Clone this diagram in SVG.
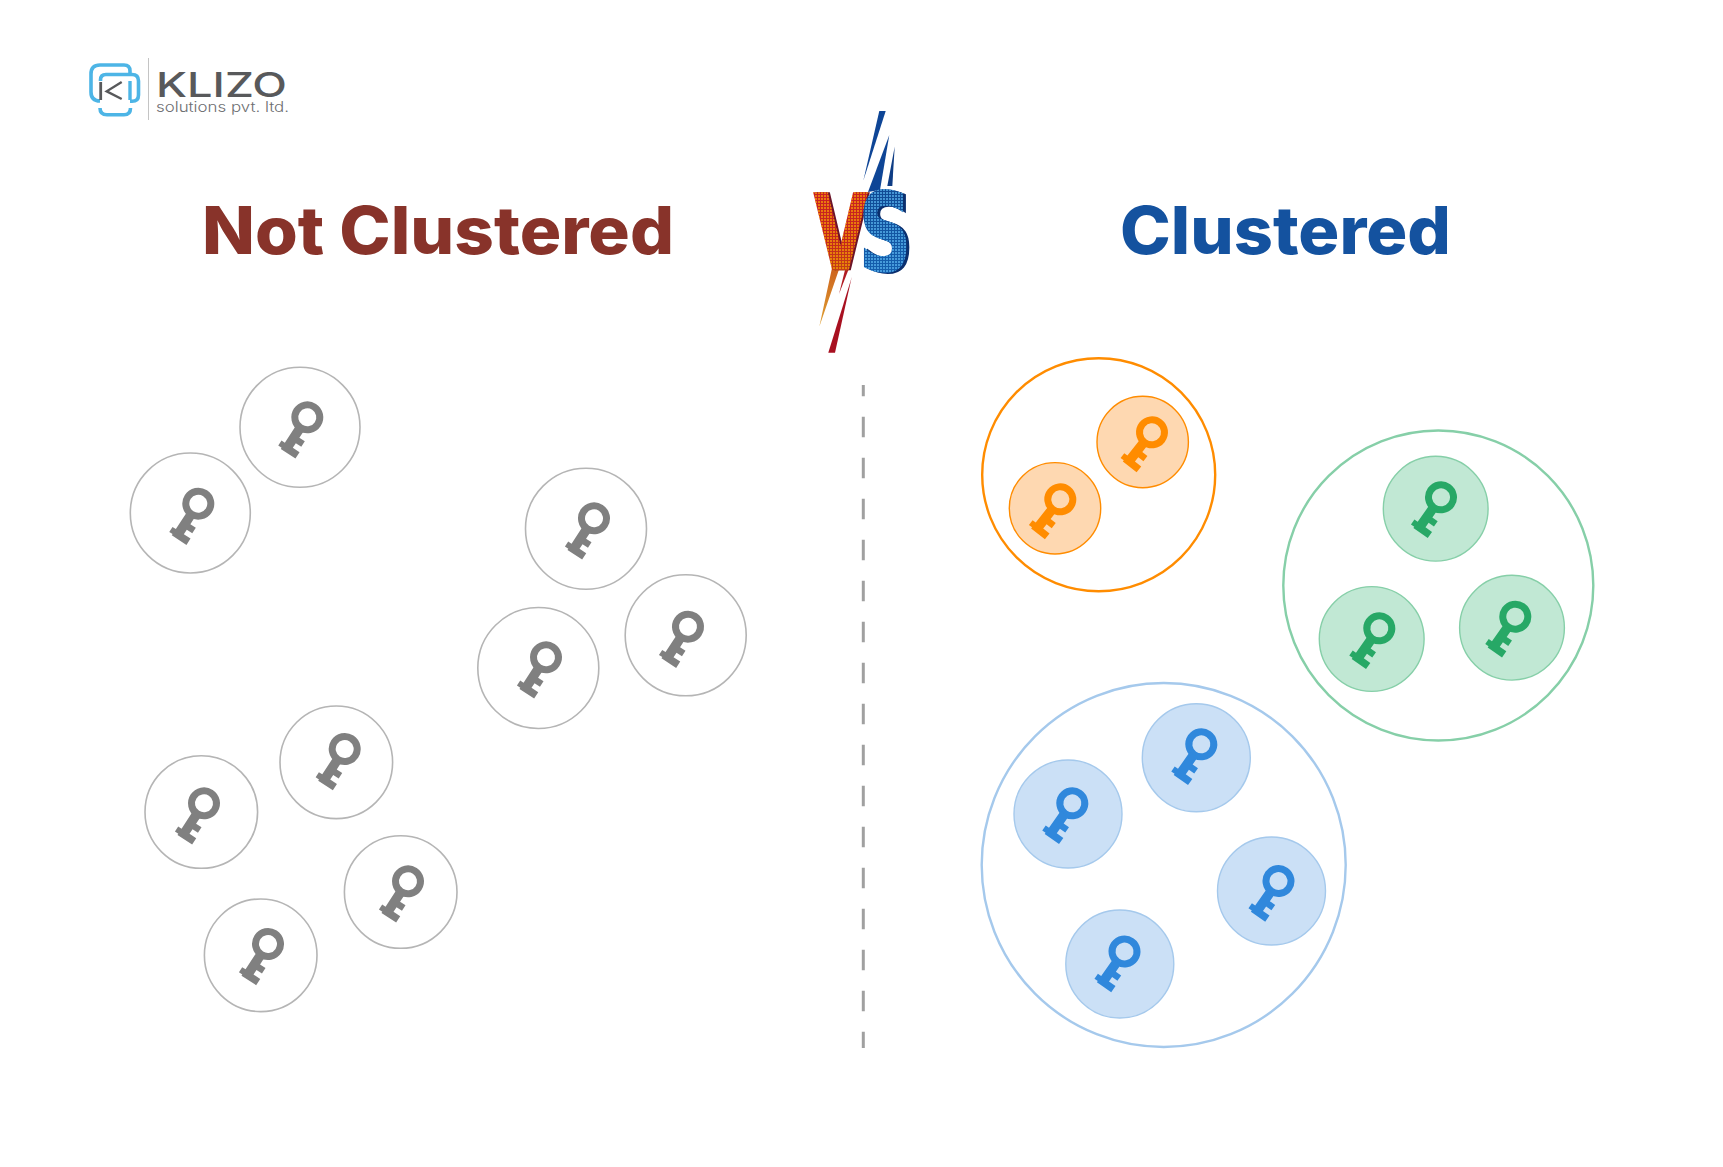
<svg xmlns="http://www.w3.org/2000/svg" width="1723" height="1167" viewBox="0 0 1723 1167">
<style>
.title{font-family:"Inter","Liberation Sans",sans-serif;font-weight:800;font-size:66px}
.gray{fill:#fff;stroke:#b5b5b5;stroke-width:1.6;color:#808080}
.orange{fill:#fed8b1;stroke:#ff8c00;stroke-width:1.4;color:#ff8c00}
.green{fill:#c1e8d4;stroke:#86cfa8;stroke-width:1.4;color:#27a866}
.blue{fill:#cbe0f6;stroke:#a5c9ec;stroke-width:1.4;color:#3088dc}
.hull{fill:none;stroke-width:2.4}
.k{stroke:none}
.vs{font-family:"DejaVu Sans","Liberation Sans",sans-serif;font-weight:700}
.logo{stroke:#4db5e6;stroke-width:3.6;fill:none}
</style>
<defs>
<g id="key">
<circle cx="0" cy="0" r="12.5" fill="none" stroke="currentColor" stroke-width="7"/>
<path fill="currentColor" stroke="none" d="M-5,13 L4.500,13 V21.500 H11 V28 H4.500 V33.500 H12.500 V41 H-5 V39.500 H-9 V33.500 H-5 Z"/>
</g>
<filter id="htV" filterUnits="userSpaceOnUse" primitiveUnits="userSpaceOnUse" x="800" y="180" width="80" height="100" color-interpolation-filters="sRGB">
<feOffset in="SourceAlpha" dx="1.500" dy="0" result="off"/>
<feFlood x="800" y="180" width="80" height="100" flood-color="#6b1428" result="dark"/>
<feComposite in="dark" in2="off" operator="in" x="800" y="180" width="80" height="100" result="ext"/>
<feFlood x="800" y="180" width="1.500" height="1.500" flood-color="#ffb000" flood-opacity=".38" result="d"/>
<feComposite in="d" in2="d" x="800" y="180" width="3.500" height="3.500" operator="over" result="c"/>
<feTile in="c" x="800" y="180" width="80" height="100" result="t"/>
<feComposite in="t" in2="SourceAlpha" operator="in" x="800" y="180" width="80" height="100" result="dots"/>
<feMerge><feMergeNode in="ext"/><feMergeNode in="SourceGraphic"/><feMergeNode in="dots"/></feMerge>
</filter>
<filter id="htS" filterUnits="userSpaceOnUse" primitiveUnits="userSpaceOnUse" x="850" y="180" width="80" height="100" color-interpolation-filters="sRGB">
<feOffset in="SourceAlpha" dx="3" dy="1" result="off"/>
<feFlood x="850" y="180" width="80" height="100" flood-color="#0b2f6e" result="dark"/>
<feComposite in="dark" in2="off" operator="in" x="850" y="180" width="80" height="100" result="ext"/>
<feFlood x="850" y="180" width="1.500" height="1.500" flood-color="#5cb6f0" flood-opacity=".45" result="d"/>
<feComposite in="d" in2="d" x="850" y="180" width="3.500" height="3.500" operator="over" result="c"/>
<feTile in="c" x="850" y="180" width="80" height="100" result="t"/>
<feComposite in="t" in2="SourceAlpha" operator="in" x="850" y="180" width="80" height="100" result="dots"/>
<feMerge><feMergeNode in="ext"/><feMergeNode in="SourceGraphic"/><feMergeNode in="dots"/></feMerge>
</filter>
<linearGradient id="gV" x1="0" y1="0" x2="0" y2="1"><stop offset="0" stop-color="#cc1c26"/><stop offset=".6" stop-color="#c42a1c"/><stop offset="1" stop-color="#c4560f"/></linearGradient>
<linearGradient id="gS" x1="0" y1="0" x2="0" y2="1"><stop offset="0" stop-color="#0f468f"/><stop offset="1" stop-color="#1665b5"/></linearGradient>
<linearGradient id="gSpike" x1="0" y1="0" x2="0" y2="1"><stop offset="0" stop-color="#c8521a"/><stop offset="1" stop-color="#dfa030"/></linearGradient>
</defs>

<g id="logo">
<line x1="148.500" y1="58" x2="148.500" y2="120" stroke="#c4c4c4" stroke-width="1"/>
<path class="logo" d="M130,73 V71 Q130,65 124,65 H100 Q91,65 91,74 V92 Q91,101 100,101"/>
<path class="logo" d="M100.500,81 V80 Q100.500,74.500 106,74.500 H132 Q138.500,74.500 138.500,81 V95 Q138.500,101.300 132,101.300 H130"/>
<path class="logo" d="M100,108 Q100,114.800 107,114.800 H124 Q130.500,114.800 130.500,108"/>
<path d="M100.700,82 V100" stroke="#58595b" stroke-width="2.800" fill="none"/>
<path d="M121.700,82 L106.700,91.300 L121.700,99" stroke="#58595b" stroke-width="2.400" fill="none"/>
<path d="M130,81 V100" stroke="#4db5e6" stroke-width="3.400" fill="none"/>
<text x="156" y="97" font-family="'Inter','Liberation Sans',sans-serif" font-weight="500" font-size="34" fill="#58595b" textLength="131" lengthAdjust="spacingAndGlyphs">KLIZO</text>
<text x="156" y="112" font-family="'Inter','Liberation Sans',sans-serif" font-weight="300" font-size="14" fill="#6d6e71" textLength="133" lengthAdjust="spacingAndGlyphs">solutions pvt. ltd.</text>
</g>

<text id="title-left" class="title" x="202" y="254" fill="#88332a" textLength="472" lengthAdjust="spacingAndGlyphs">Not Clustered</text>
<text id="title-right" class="title" x="1120" y="254" fill="#14529f" textLength="331" lengthAdjust="spacingAndGlyphs">Clustered</text>

<g id="vs">
<polygon points="879.300,111 885.700,111 863.300,180.700" fill="#0e4596"/>
<polygon points="889.300,135 868,192 880,190" fill="#0e4596"/>
<polygon points="894.700,146.700 887.300,186 892.300,186" fill="#0e3c84"/>
<polygon points="832,268 819.300,326.700 845,252 835,252" fill="url(#gSpike)"/>
<polygon points="848,258 853,258 839,294" fill="#b01a22"/>
<polygon points="851.700,277.300 828.300,352.700 835,352.700" fill="#a81020"/>
<text class="vs" x="814" y="269" font-size="104" fill="url(#gV)" stroke="url(#gV)" stroke-width="2.500" textLength="53" lengthAdjust="spacingAndGlyphs" filter="url(#htV)">V</text>
<text class="vs" x="859" y="270" font-size="108" fill="url(#gS)" stroke="url(#gS)" stroke-width="2" textLength="52" lengthAdjust="spacingAndGlyphs" filter="url(#htS)">S</text>
</g>

<g id="connectors">
<line id="divider" x1="863.300" y1="385" x2="863.300" y2="1048" stroke="#a0a0a0" stroke-width="3" stroke-dasharray="20.500 20.500" stroke-dashoffset="9.300"/>
</g>

<g id="n1" class="gray"><circle cx="300" cy="427.300" r="60"/><use href="#key" class="k" transform="translate(307.300,417.300) rotate(33)"/></g>
<g id="n2" class="gray"><circle cx="190.300" cy="513" r="60"/><use href="#key" class="k" transform="translate(198.300,503.700) rotate(33)"/></g>
<g id="n3" class="gray"><circle cx="586" cy="528.700" r="60.500"/><use href="#key" class="k" transform="translate(594,518.300) rotate(33)"/></g>
<g id="n4" class="gray"><circle cx="685.700" cy="635.300" r="60.500"/><use href="#key" class="k" transform="translate(688,626.700) rotate(33)"/></g>
<g id="n5" class="gray"><circle cx="538.300" cy="668" r="60.500"/><use href="#key" class="k" transform="translate(546,657.300) rotate(33)"/></g>
<g id="n6" class="gray"><circle cx="336.300" cy="762.300" r="56.300"/><use href="#key" class="k" transform="translate(344.700,749) rotate(33)"/></g>
<g id="n7" class="gray"><circle cx="201.300" cy="812" r="56.300"/><use href="#key" class="k" transform="translate(204,803.300) rotate(33)"/></g>
<g id="n8" class="gray"><circle cx="400.700" cy="892" r="56.300"/><use href="#key" class="k" transform="translate(408,881.300) rotate(33)"/></g>
<g id="n9" class="gray"><circle cx="260.700" cy="955.300" r="56.300"/><use href="#key" class="k" transform="translate(268,944) rotate(33)"/></g>

<g id="cluster-orange"><circle class="hull" cx="1098.700" cy="474.700" r="116.500" stroke="#ff8c00"/>
<g id="o1" class="orange"><circle cx="1142.700" cy="442" r="45.700"/><use href="#key" class="k" transform="translate(1152,432.300) rotate(38)"/></g>
<g id="o2" class="orange"><circle cx="1055" cy="508.300" r="45.700"/><use href="#key" class="k" transform="translate(1060.300,499.300) rotate(38)"/></g>
</g>
<g id="cluster-green"><circle class="hull" cx="1438.300" cy="585.500" r="155" stroke="#86cfa8"/>
<g id="g1" class="green"><circle cx="1435.700" cy="508.700" r="52.400"/><use href="#key" class="k" transform="translate(1441,497.300) rotate(35)"/></g>
<g id="g2" class="green"><circle cx="1371.700" cy="639" r="52.400"/><use href="#key" class="k" transform="translate(1379.300,628.300) rotate(35)"/></g>
<g id="g3" class="green"><circle cx="1512" cy="627.700" r="52.400"/><use href="#key" class="k" transform="translate(1515.300,616.700) rotate(35)"/></g>
</g>
<g id="cluster-blue"><circle class="hull" cx="1163.700" cy="865" r="182" stroke="#a5c9ec"/>
<g id="b1" class="blue"><circle cx="1196.300" cy="757.700" r="54"/><use href="#key" class="k" transform="translate(1201.300,744.300) rotate(35)"/></g>
<g id="b2" class="blue"><circle cx="1068" cy="814" r="54"/><use href="#key" class="k" transform="translate(1072.300,803.300) rotate(35)"/></g>
<g id="b3" class="blue"><circle cx="1271.500" cy="891" r="54"/><use href="#key" class="k" transform="translate(1278.500,881) rotate(35)"/></g>
<g id="b4" class="blue"><circle cx="1119.800" cy="964" r="54"/><use href="#key" class="k" transform="translate(1124.500,951.500) rotate(35)"/></g>
</g>
</svg>
